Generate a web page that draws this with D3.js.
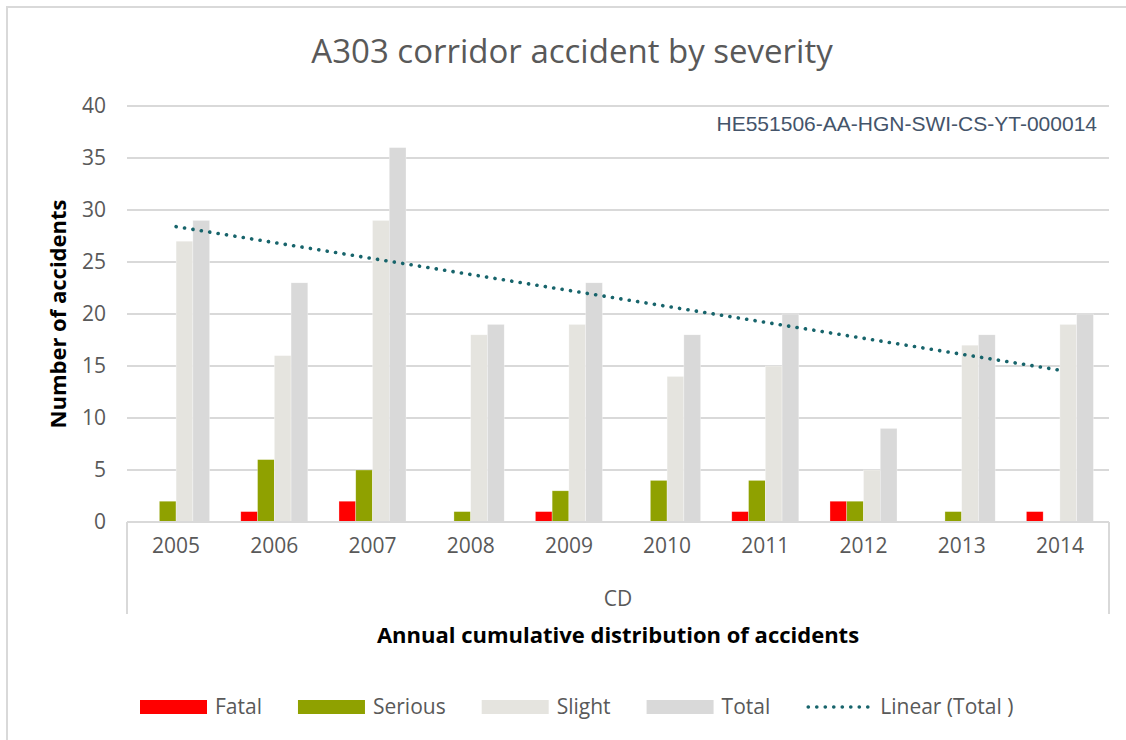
<!DOCTYPE html>
<html>
<head>
<meta charset="utf-8">
<script src="https://cdn.jsdelivr.net/npm/d3@7"></script>
<style>
  body { margin: 0; background: #fff; }
  svg { display: block; font-family: "Open Sans", sans-serif; }
</style>
</head>
<body>
<svg id="chart" width="1126" height="740"></svg>
<script>
// data
const years = ["2005", "2006", "2007", "2008", "2009", "2010", "2011", "2012", "2013", "2014"];
const fatal = [0, 1, 2, 0, 1, 0, 1, 2, 0, 1];
const serious = [2, 6, 5, 1, 3, 4, 4, 2, 1, 0];
const slight = [27, 16, 29, 18, 19, 14, 15, 5, 17, 19];
const total = [29, 23, 36, 19, 23, 18, 20, 9, 18, 20];
const seriesNames = ["Fatal", "Serious", "Slight", "Total"];
const seriesColors = ["#ff0000", "#8fa100", "#e5e4df", "#d9d9d9"];
const yTicks = [0, 5, 10, 15, 20, 25, 30, 35, 40];

const svg = d3.select("#chart");
const margin = { left: 127, right: 1109, top: 106, bottom: 522 };

// outer frame
svg.append("rect")
  .attr("x", 7).attr("y", 7)
  .attr("width", 1140).attr("height", 760)
  .attr("fill", "none").attr("stroke", "#d9d9d9").attr("stroke-width", 2);

const x0 = d3.scaleBand().domain(years).range([margin.left, margin.right]).padding(0);
const x1 = d3.scaleBand().domain(seriesNames).range([0, x0.bandwidth()]).paddingInner(0).paddingOuter(0.93);
const y = d3.scaleLinear().domain([0, 40]).range([margin.bottom, margin.top]);

// gridlines
svg.append("g")
  .selectAll("line")
  .data(yTicks)
  .enter()
  .append("line")
  .attr("x1", margin.left).attr("x2", margin.right)
  .attr("y1", (d) => y(d)).attr("y2", (d) => y(d))
  .attr("stroke", "#d9d9d9").attr("stroke-width", 2);

// y tick labels
svg.append("g")
  .selectAll("text")
  .data(yTicks)
  .enter()
  .append("text")
  .attr("x", 106)
  .attr("y", (d) => y(d))
  .attr("dy", "0.35em")
  .attr("text-anchor", "end")
  .style("font-size", "21px")
  .style("fill", "#595959")
  .text((d) => d);

// bars
const table = years.map((yr, i) => ({
  year: yr,
  values: [fatal[i], serious[i], slight[i], total[i]]
}));

const groups = svg.append("g")
  .selectAll("g")
  .data(table)
  .enter()
  .append("g")
  .attr("transform", (d) => `translate(${x0(d.year)},0)`);

groups.selectAll("rect")
  .data((d) => d.values.map((v, k) => ({ name: seriesNames[k], value: v, color: seriesColors[k] })))
  .enter()
  .append("rect")
  .attr("x", (d) => x1(d.name))
  .attr("width", x1.bandwidth())
  .attr("y", (d) => y(d.value))
  .attr("height", (d) => y(0) - y(d.value))
  .attr("fill", (d) => d.color)
  .attr("stroke", "#ffffff")
  .attr("stroke-opacity", 0.5)
  .attr("stroke-width", 0.6);

// linear trend of Total
const n = total.length;
const xs = d3.range(1, n + 1);
const mx = d3.mean(xs), my = d3.mean(total);
const slope = d3.sum(xs, (v, i) => (v - mx) * (total[i] - my)) / d3.sum(xs, (v) => (v - mx) * (v - mx));
const icpt = my - slope * mx;
const trend = [1, n].map((v) => ({ year: years[v - 1], value: icpt + slope * v }));

svg.append("path")
  .datum(trend)
  .attr("d", d3.line().x((d) => x0(d.year) + x0.bandwidth() / 2).y((d) => y(d.value)))
  .attr("fill", "none")
  .attr("stroke", "#17646b")
  .attr("stroke-width", 3.6)
  .attr("stroke-linecap", "round")
  .attr("stroke-dasharray", "0.1 8.4");

// x axis box (multi-level category axis)
const axisG = svg.append("g").attr("stroke", "#d9d9d9").attr("stroke-width", 2);
axisG.append("line").attr("x1", margin.left).attr("x2", margin.right).attr("y1", y(0)).attr("y2", y(0));
axisG.append("line").attr("x1", margin.left).attr("x2", margin.left).attr("y1", y(0)).attr("y2", 614);
axisG.append("line").attr("x1", margin.right).attr("x2", margin.right).attr("y1", y(0)).attr("y2", 614);

svg.append("g")
  .selectAll("text")
  .data(years)
  .enter()
  .append("text")
  .attr("x", (d) => x0(d) + x0.bandwidth() / 2)
  .attr("y", 553)
  .attr("text-anchor", "middle")
  .style("font-size", "21px")
  .style("fill", "#595959")
  .text((d) => d);

svg.append("text")
  .attr("x", (margin.left + margin.right) / 2)
  .attr("y", 606)
  .attr("text-anchor", "middle")
  .style("font-size", "21px")
  .style("fill", "#595959")
  .text("CD");

// titles
svg.append("text")
  .attr("x", 572).attr("y", 63)
  .attr("text-anchor", "middle")
  .style("font-size", "33px")
  .style("fill", "#595959")
  .text("A303 corridor accident by severity");

svg.append("text")
  .attr("x", 618).attr("y", 643)
  .attr("text-anchor", "middle")
  .style("font-size", "22px")
  .style("font-weight", "bold")
  .style("fill", "#000")
  .text("Annual cumulative distribution of accidents");

svg.append("text")
  .attr("transform", "translate(66,314) rotate(-90)")
  .attr("text-anchor", "middle")
  .style("font-size", "22px")
  .style("font-weight", "bold")
  .style("fill", "#000")
  .text("Number of accidents");

svg.append("text")
  .attr("x", 1097).attr("y", 131)
  .attr("text-anchor", "end")
  .style("font-family", "'Liberation Sans', Arial, sans-serif")
  .style("font-size", "21px")
  .style("fill", "#44546a")
  .text("HE551506-AA-HGN-SWI-CS-YT-000014");

// legend
const legendItems = seriesNames.map((s, i) => ({ label: s, color: seriesColors[i], line: false }))
  .concat([{ label: "Linear (Total )", color: "#17646b", line: true }]);
const legend = svg.append("g");
let lx = 140;
legendItems.forEach((it) => {
  if (it.line) {
    legend.append("line")
      .attr("x1", lx + 2).attr("x2", lx + 62)
      .attr("y1", 707).attr("y2", 707)
      .attr("stroke", it.color).attr("stroke-width", 3.6)
      .attr("stroke-linecap", "round").attr("stroke-dasharray", "0.1 8.4");
  } else {
    legend.append("rect")
      .attr("x", lx).attr("y", 700)
      .attr("width", 67).attr("height", 14)
      .attr("fill", it.color);
  }
  const t = legend.append("text")
    .attr("x", lx + (it.line ? 74 : 75)).attr("y", 707)
    .attr("dy", "0.35em")
    .style("font-size", "21px")
    .style("fill", "#595959")
    .text(it.label);
  lx = lx + 75 + t.node().getComputedTextLength() + 36;
});
</script>
</body>
</html>
